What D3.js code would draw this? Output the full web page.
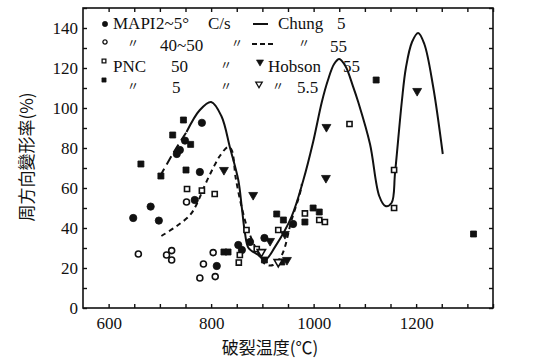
<!DOCTYPE html>
<html>
<head>
<meta charset="utf-8">
<script src="https://cdn.jsdelivr.net/npm/d3@7"></script>
<style>
  body { margin: 0; background: #fff; }
  text { fill: #111; }
</style>
</head>
<body>
<div id="chart"></div>
<script>
// data: [rupture temperature (°C), circumferential strain (%)]
const mapiSlow = [[648,45],[682,50.7],[698,43.7],[749,83.7],[782,92.6],[739,79],[733,77],[778,68],[768,54],[811,21],[853,31.5],[860,29],[876,33],[904,35],[960,42]]
const mapiFast = [[658,27],[713,26.5],[723,28.7],[723,24],[752,53],[804,27.7],[785,22],[778,15],[808,15.7]]
const pnc50 = [[753,59.5],[782,58.7],[807,57],[854,22.7],[856,26.5],[869,39],[889,29.5],[931,39],[983,47.3],[1011,44],[1022,43],[1070,92],[1157,69],[1157,50]]
const pnc5 = [[663,72],[702,66],[725,86.5],[746,94],[760,81.8],[751,69],[825,28],[833,28],[904,24],[928,47],[941,44],[938,23],[983,43],[999,50],[1011,48],[1122,114],[1312,37]]
const hobson55 = [[825,69],[882,56.5],[915,33.5],[944,37],[948,24],[1025,90.5],[1024,65],[1202,108.5]]
const hobson5 = [[931,23],[898,28]]

const chungSlowLead = [[700,65.7],[725,77],[752,88]]
const chungSlow = [[752,88],[778,99],[800,103],[820,96],[837,80],[853,64],[860,50],[866,37.5],[873,30],[892,26.5],[905,24],[925,30.7],[957,45.7],[980,64],[999,83],[1016,103],[1028,114],[1040,122],[1050,124.5],[1062,121],[1077,110.7],[1087,103],[1110,82],[1128,56],[1140,51],[1152,52.5],[1159,68],[1172,103],[1180,120],[1192,133],[1204,137.5],[1216,132],[1233,111],[1252,77]]
const chungFast = [[703,36],[733,41],[759,46.5],[772,52],[788,61.5],[804,70],[817,76],[833,80.5],[840,79],[848,65],[860,50],[872,39],[889,29],[905,22],[921,21.5],[938,26.5],[957,44],[973,57],[977,62]]

const xTicks = d3.range(600, 1351, 50)
const yTicks = d3.range(0, 151, 10)

const SERIF = '"Liberation Serif", "Times New Roman", "DejaVu Serif", serif'
const CJK = '"Noto Sans CJK JP", "Noto Sans CJK TC", sans-serif'

const width = 540, height = 360
const svg = d3.select('#chart').append('svg')
  .attr('width', width).attr('height', height)

const x = d3.scaleLinear().domain([550, 1350]).range([83, 493])
const y = d3.scaleLinear().domain([0, 150]).range([308, 8])

// frame with inward ticks on all four sides
svg.append('rect')
  .attr('x', x(550)).attr('y', y(150))
  .attr('width', x(1350) - x(550)).attr('height', y(0) - y(150))
  .attr('fill', 'none').attr('stroke', '#111').attr('stroke-width', 1.6)

const axBottom = svg.append('g').attr('transform', `translate(0,${y(0)})`)
  .call(d3.axisBottom(x).tickValues(xTicks).tickSize(-4).tickPadding(9)
    .tickFormat(d => d % 200 === 0 ? d : ''))
const axTop = svg.append('g').attr('transform', `translate(0,${y(150)})`)
  .call(d3.axisTop(x).tickValues(xTicks).tickSize(-4).tickFormat(''))
const axLeft = svg.append('g').attr('transform', `translate(${x(550)},0)`)
  .call(d3.axisLeft(y).tickValues(yTicks).tickSize(-4).tickPadding(5)
    .tickFormat(d => d % 20 === 0 && d <= 140 ? d : ''))
const axRight = svg.append('g').attr('transform', `translate(${x(1350)},0)`)
  .call(d3.axisRight(y).tickValues(yTicks).tickSize(-4).tickFormat(''))

;[axBottom, axTop, axLeft, axRight].forEach(g => {
  g.attr('font-family', SERIF).attr('font-size', 17)
  g.select('.domain').remove()
  g.selectAll('line').attr('stroke', '#111').attr('stroke-width', 1.4)
  g.selectAll('text').attr('fill', '#111')
})

// axis titles
svg.append('text').attr('font-family', CJK).attr('font-size', 17)
  .attr('x', 270).attr('y', 354).attr('text-anchor', 'middle')
  .text('破裂温度(℃)')
svg.append('text').attr('font-family', CJK).attr('font-size', 17)
  .attr('transform', 'translate(33,157) rotate(-90)').attr('text-anchor', 'middle')
  .text('周方向變形率(%)')

// curves
const line = d3.line().x(d => x(d[0])).y(d => y(d[1])).curve(d3.curveCatmullRom.alpha(0.5))
svg.append('path').attr('d', line(chungSlowLead))
  .attr('fill', 'none').attr('stroke', '#111').attr('stroke-width', 2).attr('stroke-dasharray', '9,5')
svg.append('path').attr('d', line(chungSlow))
  .attr('fill', 'none').attr('stroke', '#111').attr('stroke-width', 2)
svg.append('path').attr('d', line(chungFast))
  .attr('fill', 'none').attr('stroke', '#111').attr('stroke-width', 2).attr('stroke-dasharray', '5,4')

// markers
function drawPoints(data, type, filled, size, rot) {
  svg.append('g').selectAll('path').data(data).join('path')
    .attr('d', d3.symbol().type(type).size(size))
    .attr('transform', d => `translate(${x(d[0])},${y(d[1])}) rotate(${rot || 0})`)
    .attr('fill', filled ? '#111' : '#fff')
    .attr('stroke', '#111').attr('stroke-width', filled ? 0.8 : 1.6)
}
drawPoints(mapiSlow, d3.symbolCircle, true, 42)
drawPoints(mapiFast, d3.symbolCircle, false, 28)
drawPoints(pnc50, d3.symbolSquare, false, 26)
drawPoints(pnc5, d3.symbolSquare, true, 36)
drawPoints(hobson55, d3.symbolTriangle, true, 34, 180)
drawPoints(hobson5, d3.symbolTriangle, false, 30, 180)

// legend
const lg = svg.append('g')
function sym(cx, cy, type, filled, size, rot) {
  lg.append('path').attr('d', d3.symbol().type(type).size(size))
    .attr('transform', `translate(${cx},${cy}) rotate(${rot || 0})`)
    .attr('fill', filled ? '#111' : '#fff').attr('stroke', '#111').attr('stroke-width', filled ? 0.6 : 1.3)
}
function txt(tx, ty, s) {
  lg.append('text').attr('font-family', SERIF).attr('font-size', 17)
    .attr('x', tx).attr('y', ty).text(s)
}
function ditto(tx, ty) {
  lg.append('text').attr('font-family', CJK).attr('font-size', 12)
    .attr('x', tx).attr('y', ty).text('〃')
}
sym(105, 24, d3.symbolCircle, true, 22)
txt(113, 29, 'MAPI'); txt(156, 29, '2~5°'); txt(208, 29, 'C/s')
lg.append('line').attr('x1', 253).attr('x2', 268).attr('y1', 24).attr('y2', 24)
  .attr('stroke', '#111').attr('stroke-width', 2)
txt(278, 29, 'Chung'); txt(337, 29, '5')

sym(105, 42, d3.symbolCircle, false, 14)
ditto(127, 48); txt(160, 51, '40~50'); ditto(231, 48)
lg.append('line').attr('x1', 252).attr('x2', 274).attr('y1', 44).attr('y2', 44)
  .attr('stroke', '#111').attr('stroke-width', 1.8).attr('stroke-dasharray', '5,3')
ditto(298, 48); txt(330, 52, '55')

sym(104, 61, d3.symbolSquare, false, 14)
txt(113, 72, 'PNC'); txt(171, 72, '50'); ditto(220, 70)
sym(260, 62, d3.symbolTriangle, true, 22, 180)
txt(268, 72, 'Hobson'); txt(343, 72, '55')

sym(104, 80, d3.symbolSquare, true, 18)
ditto(127, 91); txt(172, 93, '5'); ditto(220, 91)
sym(259, 84, d3.symbolTriangle, false, 18, 180)
ditto(272, 91); txt(297, 93, '5.5')
</script>
</body>
</html>
